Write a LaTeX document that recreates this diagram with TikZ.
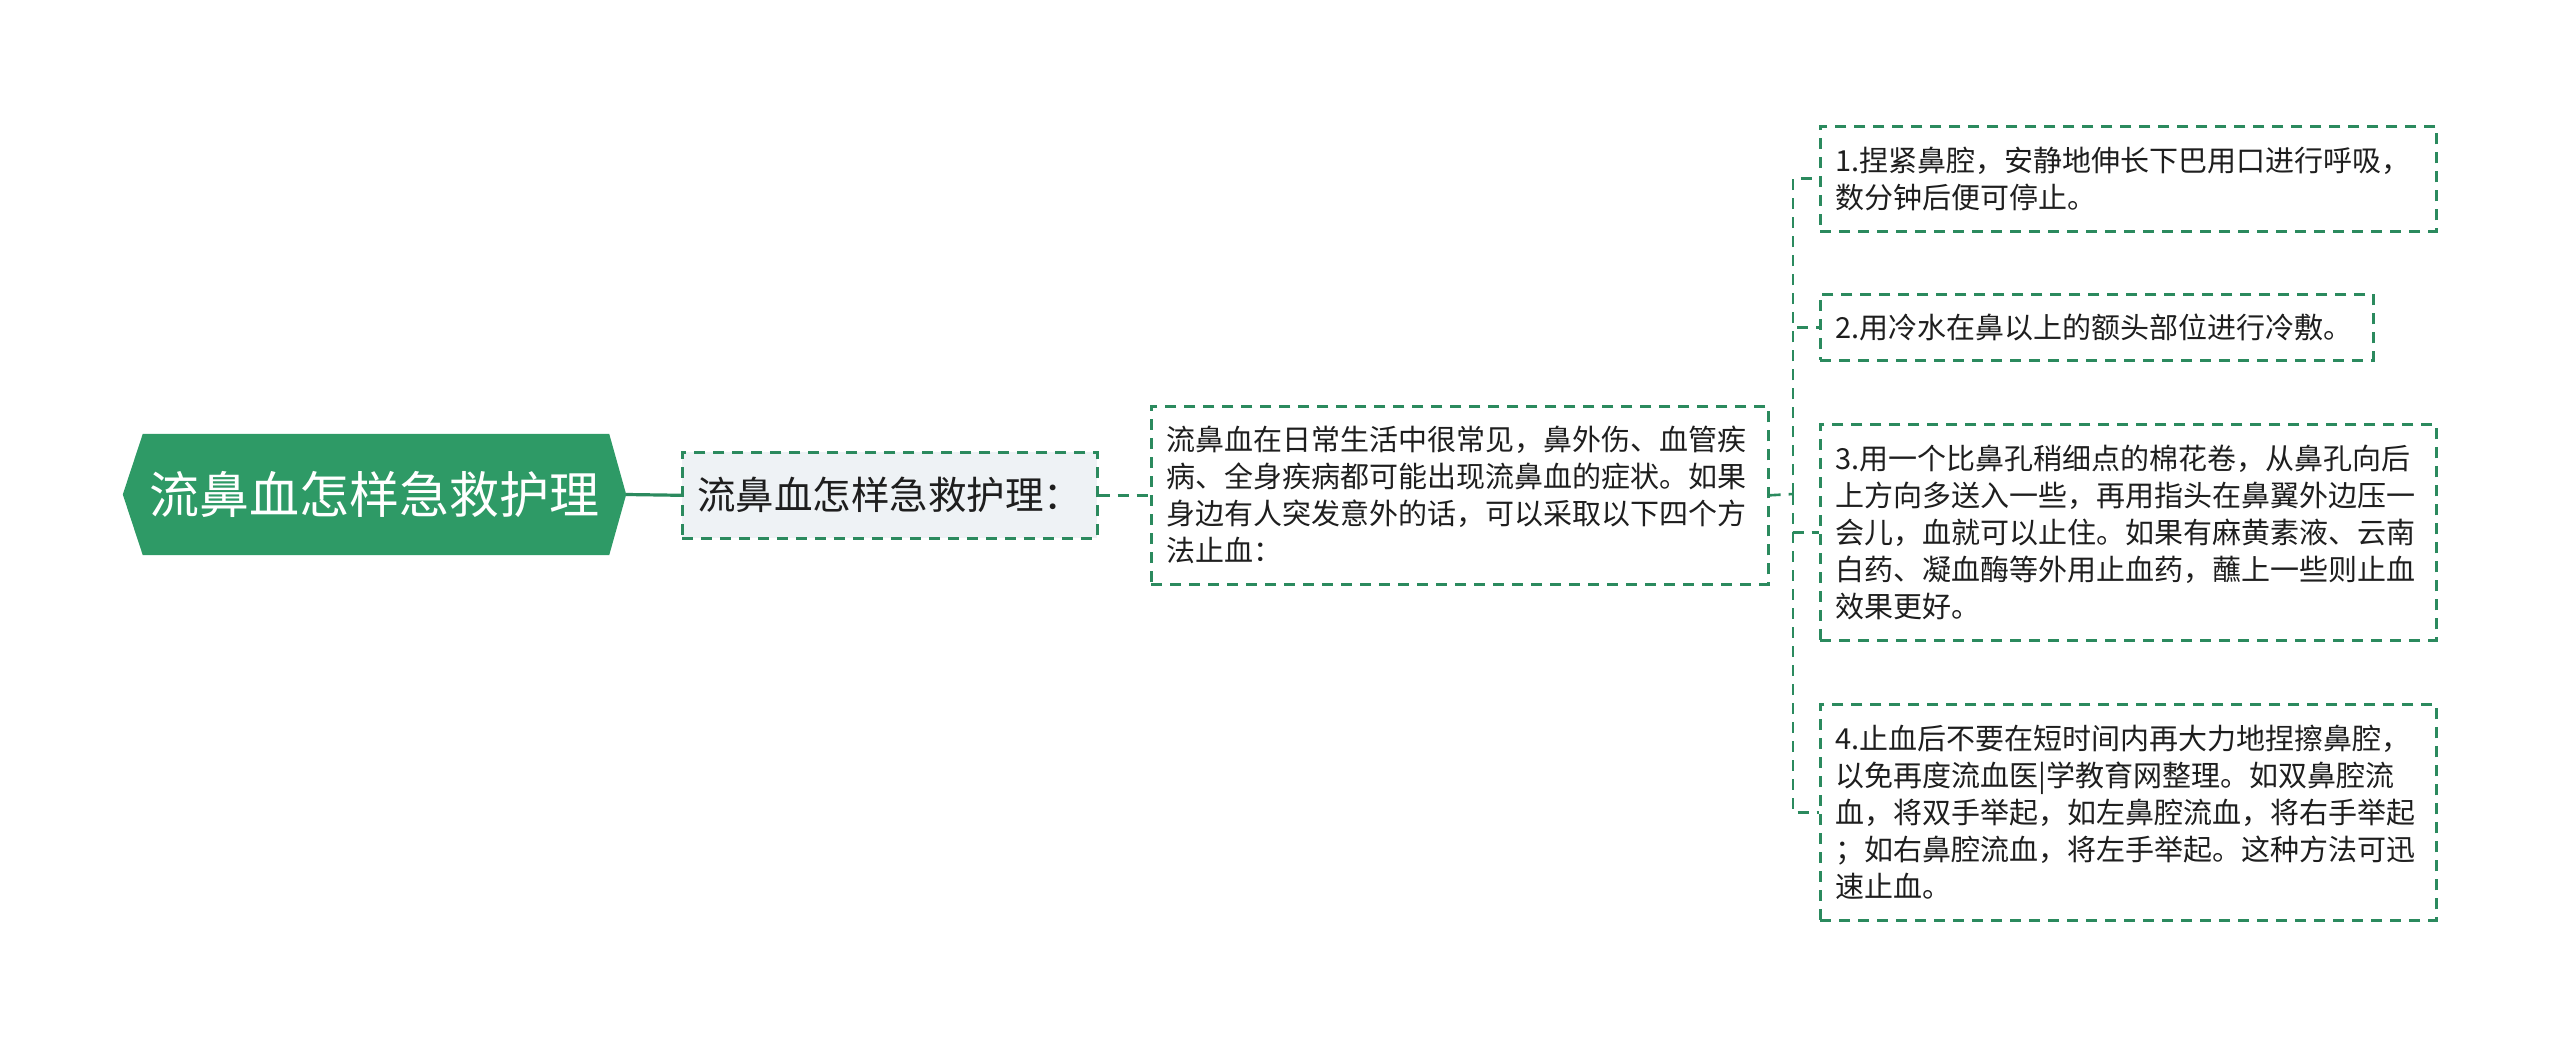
\documentclass[tikz,border=0pt]{standalone}
\usepackage{fontspec}
\setmainfont{Noto Sans CJK SC}
\usetikzlibrary{backgrounds}
\definecolor{rootgreen}{HTML}{2E9A66}
\definecolor{linegreen}{HTML}{2B8A5E}
\definecolor{lightfill}{HTML}{EEF2F5}
\definecolor{txt}{HTML}{1E1E1E}
\tikzset{
  leafbox/.style={draw=linegreen, line width=2.6pt, dash pattern=on 11pt off 8pt,
    anchor=north west, inner xsep=15pt, inner ysep=0pt, align=left,
    font=\fontsize{29}{37}\selectfont, text=txt},
  conn/.style={draw=linegreen, line width=2.6pt, dash pattern=on 11pt off 8pt},
  solidconn/.style={draw=linegreen, line width=3.2pt},
}
\begin{document}
\begin{tikzpicture}[x=1pt,y=-1pt]
\useasboundingbox (0,0) rectangle (2560,1046);
% root
\node[minimum width=503pt, minimum height=121pt, inner sep=0pt, text=white,
  font=\fontsize{50}{60}\selectfont] (root) at (374.5,494.5) {流鼻血怎样急救护理};
\begin{pgfonlayer}{background}
\fill[rootgreen] (root.west) -- ([xshift=20pt]root.north west) -- ([xshift=-17pt]root.north east)
  -- (root.east) -- ([xshift=-17pt]root.south east) -- ([xshift=20pt]root.south west) -- cycle;
\end{pgfonlayer}
% child 1
\node[leafbox, fill=lightfill, inner xsep=12pt, minimum width=415pt, minimum height=86pt,
  font=\fontsize{38.5}{46}\selectfont] (c1) at (681,451) {流鼻血怎样急救护理：};
% child 2
\node[leafbox, minimum width=617pt, minimum height=178pt, text width=587pt] (c2) at (1150,405)
  {流鼻血在日常生活中很常见，鼻外伤、血管疾\\病、全身疾病都可能出现流鼻血的症状。如果\\身边有人突发意外的话，可以采取以下四个方\\法止血：};
% leaves
\node[leafbox, minimum width=616pt, minimum height=105pt, text width=586pt] (b1) at (1819,125)
  {1.捏紧鼻腔，安静地伸长下巴用口进行呼吸，\\数分钟后便可停止。};
\node[leafbox, minimum width=553pt, minimum height=66pt, text width=523pt] (b2) at (1819,293)
  {2.用冷水在鼻以上的额头部位进行冷敷。};
\node[leafbox, minimum width=616pt, minimum height=216pt, text width=586pt] (b3) at (1819,423)
  {3.用一个比鼻孔稍细点的棉花卷，从鼻孔向后\\上方向多送入一些，再用指头在鼻翼外边压一\\会儿，血就可以止住。如果有麻黄素液、云南\\白药、凝血酶等外用止血药，蘸上一些则止血\\效果更好。};
\node[leafbox, minimum width=616pt, minimum height=216pt, text width=586pt] (b4) at (1819,703)
  {4.止血后不要在短时间内再大力地捏擦鼻腔，\\以免再度流血医|学教育网整理。如双鼻腔流\\血，将双手举起，如左鼻腔流血，将右手举起\\；如右鼻腔流血，将左手举起。这种方法可迅\\速止血。};
% connectors
\draw[solidconn] (root.east) -- (c1.west);
\draw[conn] (c1.east) -- (c2.west);
\coordinate (trunk) at (1793,494);
\draw[conn] (c2.east) -- (trunk);
\draw[conn] (trunk) |- (b1.west);
\draw[conn] (trunk) |- (b2.west);
\draw[conn] (trunk) |- (b3.west);
\draw[conn] (trunk) |- (b4.west);
\end{tikzpicture}
\end{document}
